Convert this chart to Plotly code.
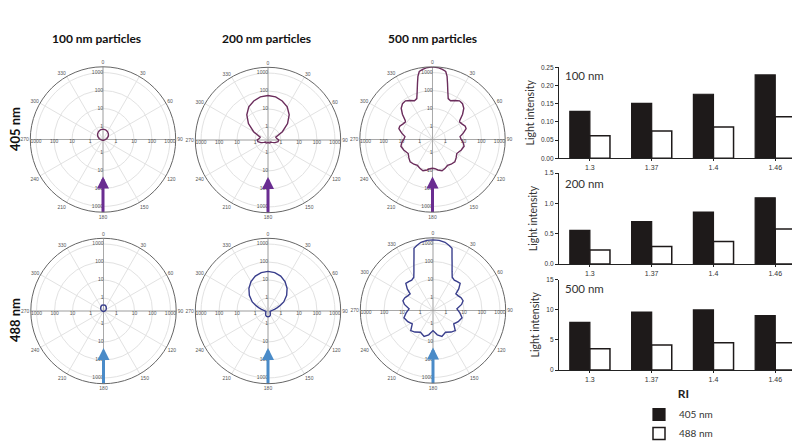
import plotly.graph_objects as go

W, H = 800, 447
OFF = 8  # page body margin of the rendered html

# ---------------- data ----------------
ri_labels = ["1.3", "1.37", "1.4", "1.46"]
int100_405 = [0.129, 0.151, 0.176, 0.229]
int100_488 = [0.062, 0.075, 0.086, 0.114]
int200_405 = [0.555, 0.70, 0.857, 1.09]
int200_488 = [0.23, 0.29, 0.37, 0.577]
int500_405 = [7.9, 9.6, 9.95, 9.0]
int500_488 = [3.54, 4.14, 4.53, 4.53]

# polar scattering patterns (half, 0..180 deg, symmetric)
ang_100_405 = [0, 15, 30, 45, 60, 75, 90, 105, 120, 135, 150, 165, 180]
r_100_405 = [0.72, 0.69, 0.61, 0.51, 0.41, 0.32, 0.265, 0.237, 0.224, 0.218, 0.215, 0.213, 0.213]
ang_100_488 = [0, 15, 30, 45, 60, 75, 90, 120, 150, 180]
r_100_488 = [0.42, 0.41, 0.37, 0.32, 0.28, 0.25, 0.23, 0.21, 0.205, 0.2]
ang_200_405 = [0, 10, 20, 30, 40, 50, 60, 65, 70, 80, 90, 100, 110, 120, 135, 150, 165, 180]
r_200_405 = [57, 52, 39, 26, 13, 5, 1.6, 0.8, 0.55, 0.6, 0.75, 0.7, 0.5, 0.35, 0.28, 0.3, 0.28, 0.26]
ang_200_488 = [0, 10, 20, 30, 40, 50, 60, 65, 70, 75, 80, 90, 110, 130, 150, 165, 180]
r_200_488 = [30.5, 28, 22, 14.8, 8.5, 4.3, 1.95, 1.1, 0.68, 0.45, 0.35, 0.27, 0.25, 0.28, 0.35, 0.39, 0.4]
ang_500_405 = [0, 5, 8, 11, 13, 15, 18, 21, 25, 30, 35, 40, 45, 50, 55, 57, 62, 68, 72, 78,
               84, 90, 96, 102, 110, 120, 128, 135, 143, 150, 157, 163, 170, 175, 180]
r_500_405 = [2075, 1900, 1620, 1350, 760, 320, 110, 52, 45, 60, 80, 75, 55, 29, 13.5, 11.9, 13.5, 17.5, 17.5, 10.9,
             6.6, 7.5, 10, 11.9, 9.6, 6.9, 8.8, 10.9, 10, 8.8, 10.9, 12.4, 10, 8.1, 7.5]
ang_500_488 = [0, 5, 10, 14, 17, 20, 22, 26, 30, 35, 40, 45, 50, 54, 60, 66, 72, 78, 86, 95,
               104, 114, 123, 132, 140, 150, 161, 170, 180]
r_500_488 = [1600, 1550, 1340, 1000, 780, 235, 130, 50, 26, 22, 24, 26, 14, 7.1, 8, 10, 10.9, 8, 4.1, 6,
             8.8, 6.5, 4.5, 8.8, 7, 4.7, 6.3, 4.5, 2.5]

radial_ticks = [1, 10, 100, 1000]
radial_ticktext = ["1", "10", "100", "1000"]
angle_ticks = list(range(0, 360, 30))
arrow_tip_r = 21.7

col_titles = ["100 nm particles", "200 nm particles", "500 nm particles"]
row_titles = ["405 nm", "488 nm"]
bar_titles = ["100 nm", "200 nm", "500 nm"]

# ---------------- helpers ----------------
def px(x):
    return (x - OFF) / W

def py(y):
    return 1 - (y - OFF) / H

def mirror(a, r):
    aa = list(a) + [360 - v for v in reversed(a[:-1])]
    rr = list(r) + list(reversed(r[:-1]))
    return aa, rr

LOGMIN, LOGMAX = -0.72, 3.32
RMIN, RMAX = 10 ** LOGMIN, 10 ** LOGMAX
R = 72.7

fig = go.Figure()

patterns = [
    (ang_100_405, r_100_405), (ang_200_405, r_200_405), (ang_500_405, r_500_405),
    (ang_100_488, r_100_488), (ang_200_488, r_200_488), (ang_500_488, r_500_488),
]
centers = [(103, 139.5), (268, 140), (432.5, 139.5), (103.5, 311), (268, 311), (433, 310.5)]
curve_cols = ["#6b2d5c", "#6b2d5c", "#6b2d5c", "#393e8c", "#393e8c", "#393e8c"]
arrow_cols = ["#6a2d91", "#6a2d91", "#6a2d91", "#4a8bc8", "#4a8bc8", "#4a8bc8"]

for i, ((a, r), (cx, cy)) in enumerate(zip(patterns, centers)):
    pid = "polar" if i == 0 else f"polar{i+1}"
    th, rr = [], []
    for t in (0, 90, 180, 270):
        th += [t, t, None]
        rr += [RMIN, RMAX, None]
    fig.add_trace(go.Scatterpolar(theta=th, r=rr, mode="lines", subplot=pid,
                                  line=dict(color="#9a9a9a", width=0.8), showlegend=False, hoverinfo="skip"))
    for t, pos in ((0, "middle left"), (180, "middle left"), (90, "bottom center"), (270, "bottom center")):
        fig.add_trace(go.Scatterpolar(theta=[t] * len(radial_ticks), r=radial_ticks, mode="text",
                                      text=radial_ticktext, textposition=pos, subplot=pid,
                                      textfont=dict(size=5, color="#555", family="Liberation Sans"),
                                      showlegend=False, hoverinfo="skip"))
    aa, rr2 = mirror(a, r)
    fig.add_trace(go.Scatterpolar(theta=aa, r=rr2, mode="lines", subplot=pid,
                                  line=dict(color=curve_cols[i], width=1.4), showlegend=False))
    fig.add_trace(go.Scatterpolar(theta=[180, 180], r=[RMAX, arrow_tip_r * 1.4], mode="lines", subplot=pid,
                                  line=dict(color=arrow_cols[i], width=3), showlegend=False, hoverinfo="skip"))
    fig.add_trace(go.Scatterpolar(theta=[180], r=[arrow_tip_r], mode="markers", subplot=pid,
                                  marker=dict(symbol="arrow-up", size=12, color=arrow_cols[i]),
                                  showlegend=False, hoverinfo="skip"))
    fig.update_layout(**{pid: dict(
        domain=dict(x=[px(cx - R), px(cx + R)], y=[py(cy + R), py(cy - R)]),
        bgcolor="white",
        radialaxis=dict(type="log", range=[LOGMIN, LOGMAX], tickvals=radial_ticks, showticklabels=False,
                        showline=False, ticks="", gridcolor="#e2e2e2", gridwidth=0.8),
        angularaxis=dict(rotation=90, direction="clockwise", tickmode="array", tickvals=angle_ticks,
                         ticktext=[str(v) for v in angle_ticks], ticks="",
                         tickfont=dict(size=5, color="#555", family="Liberation Sans"),
                         gridcolor="#e2e2e2", gridwidth=0.8, showline=True, linecolor="#666", linewidth=1),
    )})

# ---------------- bars ----------------
bar_sets = [(int100_405, int100_488), (int200_405, int200_488), (int500_405, int500_488)]
ydoms = [(67.3, 158.3), (173, 264), (279.5, 370)]
yranges = [[0, 0.25], [0, 1.5], [0, 15]]
ytickvals = [[0, 0.05, 0.10, 0.15, 0.20, 0.25], [0, 0.5, 1.0, 1.5], [0, 5, 10, 15]]
yticktext = [["0.00", "0.05", "0.10", "0.15", "0.20", "0.25"], ["0.0", "0.5", "1.0", "1.5"], ["0", "5", "10", "15"]]
dark = "#1e1a1a"

for k, (v405, v488) in enumerate(bar_sets):
    xa = "x" if k == 0 else f"x{k+1}"
    ya = "y" if k == 0 else f"y{k+1}"
    fig.add_trace(go.Bar(x=ri_labels, y=v405, xaxis=xa, yaxis=ya, name="405 nm", legendgroup="405",
                         showlegend=(k == 0), marker=dict(color=dark, line=dict(color=dark, width=1.2))))
    fig.add_trace(go.Bar(x=ri_labels, y=v488, xaxis=xa, yaxis=ya, name="488 nm", legendgroup="488",
                         showlegend=(k == 0), marker=dict(color="white", line=dict(color=dark, width=1.5))))
    xkey = "xaxis" if k == 0 else f"xaxis{k+1}"
    ykey = "yaxis" if k == 0 else f"yaxis{k+1}"
    y0, y1 = ydoms[k]
    fig.update_layout(**{
        xkey: dict(domain=[px(559), 1.0], anchor=ya, range=[-0.5, 3.53], showline=True, linecolor="#222",
                   linewidth=1.2, ticks="outside", ticklen=2, tickcolor="#222",
                   tickfont=dict(size=7, color="#333", family="Liberation Sans"), showgrid=False,
                   zeroline=False, fixedrange=True),
        ykey: dict(domain=[py(y1), py(y0)], anchor=xa, range=yranges[k], tickvals=ytickvals[k],
                   ticktext=yticktext[k], showline=True, linecolor="#222", linewidth=1.2, ticks="outside",
                   ticklen=3, tickcolor="#222", tickfont=dict(size=6.5, color="#333", family="Liberation Sans"),
                   showgrid=False, zeroline=False,
                   title=dict(text="Light intensity", standoff=4,
                              font=dict(size=10.5, color="#333", family="Lato"))),
    })
    fig.add_annotation(x=px(563), y=py((76, 184, 288)[k]), xref="paper", yref="paper", text=bar_titles[k],
                       showarrow=False, xanchor="left", yanchor="middle",
                       font=dict(size=11.5, color="#333", family="Lato"))

fig.update_layout(xaxis3_title=dict(text="<b>RI</b>", standoff=8, font=dict(size=12, color="#222", family="Lato")))

for t, cx in zip(col_titles, (96, 266, 432)):
    fig.add_annotation(x=px(cx), y=py(38), xref="paper", yref="paper", text=f"<b>{t}</b>", showarrow=False,
                       xanchor="center", yanchor="middle", font=dict(size=12, color="#111", family="Lato"))
for t, cy in zip(row_titles, (129, 320)):
    fig.add_annotation(x=px(15), y=py(cy), xref="paper", yref="paper", text=f"<b>{t}</b>", showarrow=False,
                       xanchor="center", yanchor="middle", textangle=-90,
                       font=dict(size=13, color="#111", family="Lato"))

fig.update_layout(
    width=W, height=H, margin=dict(l=0, r=0, t=0, b=0, autoexpand=False),
    paper_bgcolor="white", plot_bgcolor="white",
    barmode="group", bargap=0.35, bargroupgap=0,
    showlegend=True,
    legend=dict(x=px(639), y=py(400), xanchor="left", yanchor="top", bgcolor="rgba(0,0,0,0)",
                font=dict(size=10, color="#333", family="Lato"), tracegroupgap=0, itemwidth=30),
    font=dict(family="Lato"),
)

fig.write_html("out.html")
